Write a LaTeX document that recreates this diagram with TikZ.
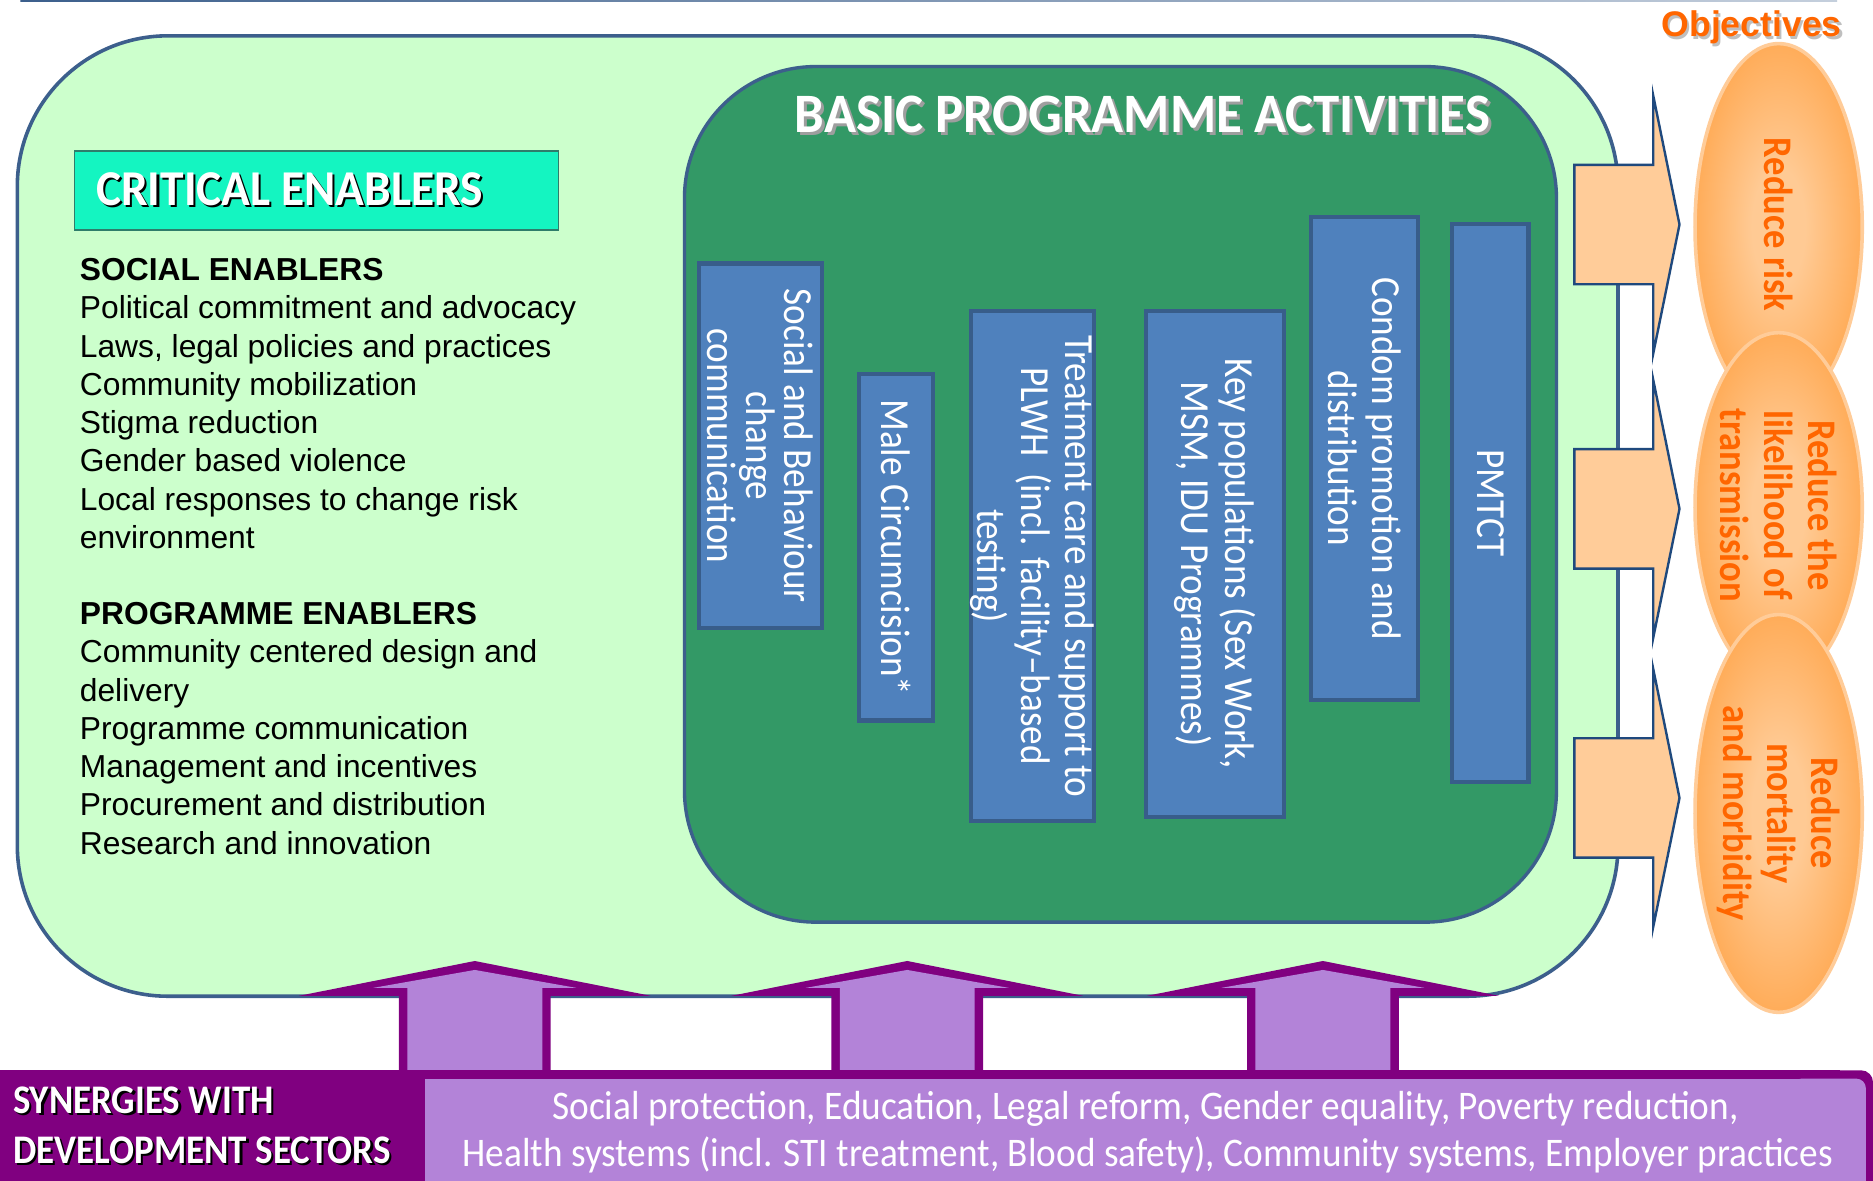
\documentclass[tikz,border=0pt]{standalone}
\usepackage{fontspec}
\usepackage{graphicx}
\setmainfont{Liberation Sans}
\newfontfamily\cfont[FakeStretch=0.9]{Carlito}
\newfontfamily\hfont{Carlito}
\definecolor{lgreen}{HTML}{CCFFCC}
\definecolor{dgreen}{HTML}{339966}
\definecolor{bord}{HTML}{3C5F8C}
\definecolor{bfill}{HTML}{4F81BD}
\definecolor{bbord}{HTML}{385D8A}
\definecolor{cefill}{HTML}{14F5C1}
\definecolor{ceborder}{HTML}{2E7D6B}
\definecolor{peach}{HTML}{FFCC99}
\definecolor{navy}{HTML}{1F497D}
\definecolor{orng}{HTML}{FF9933}
\definecolor{olight}{HTML}{FFCA94}
\definecolor{otext}{HTML}{FF6600}
\definecolor{dpurp}{HTML}{800080}
\definecolor{lpurp}{HTML}{B383D8}
\pgfdeclareradialshading{objsh}{\pgfpoint{0bp}{0bp}}{color(0bp)=(olight); color(8bp)=(olight); color(36bp)=(orng); color(50bp)=(orng)}
\newcommand\hdr[3]{\resizebox{#1}{\height}{\hfont\bfseries\fontsize{#2}{#2}\selectfont #3}}
\newcommand\btxt[2]{\resizebox{#1}{\height}{\hfont\fontsize{17}{20}\selectfont #2}}
\begin{document}
\begin{tikzpicture}[x=0.5pt,y=-0.5pt,
  lt/.style={anchor=base west, inner sep=0pt, font=\fontsize{13.3}{16}\selectfont},
  hd/.style={anchor=base west, inner sep=0pt},
  bluebox/.style={draw=bbord, fill=bfill, line width=1.75pt},
  boxtext/.style={text=white, rotate=-90, align=center, inner sep=0pt, font=\cfont\fontsize{17.3}{18.5}\selectfont},
  objtext/.style={text=otext, rotate=-90, align=center, inner sep=0pt, font=\cfont\bfseries\fontsize{17}{18.5}\selectfont},
  objell/.style={shading=objsh, draw=peach, line width=1.5pt},
  rarrow/.style={draw=navy, fill=peach, line width=1pt, line join=miter}]
\useasboundingbox (0,0) rectangle (1568,988);
\fill[white] (0,0) rectangle (1568,988);
% top thin line
\shade[left color=bord, right color=bord!30] (17,0) rectangle (1538,1.6);
% outer box
\draw[draw=bord, fill=lgreen, line width=1.5pt, rounded corners=63pt] (14.5,30) rectangle (1354.5,834);
% inner box
\draw[draw=bord, fill=dgreen, line width=1.4pt, rounded corners=55pt] (573,55.7) rectangle (1303,772);
% title
\node[hd, text=black!38] at (667.5,113.5) {\hdr{291pt}{23.3}{BASIC PROGRAMME ACTIVITIES}};
\node[hd, text=white] (title) at (665,111) {\hdr{291pt}{23.3}{BASIC PROGRAMME ACTIVITIES}};
% critical enablers box
\draw[draw=ceborder, fill=cefill, line width=0.6pt] (62.5,126.5) rectangle (467.5,192.5);
\node[hd, text=black] at (81.8,173.8) {\hdr{162pt}{21}{CRITICAL ENABLERS}};
\node[hd, text=white] (ce) at (80,172) {\hdr{162pt}{21}{CRITICAL ENABLERS}};
% left text
\node[lt, font=\bfseries\fontsize{13.3}{16}\selectfont] (l0) at (66.5,235) {SOCIAL ENABLERS};
\node[lt] (l1) at (66.5,267) {Political commitment and advocacy};
\node[lt] (l2) at (66.5,299) {Laws, legal policies and practices};
\node[lt] (l3) at (66.5,331) {Community mobilization};
\node[lt] (l4) at (66.5,363) {Stigma reduction};
\node[lt] (l5) at (66.5,395) {Gender based violence};
\node[lt] (l6) at (66.5,427) {Local responses to change risk};
\node[lt] (l7) at (66.5,459) {environment};
\node[lt, font=\bfseries\fontsize{13.3}{16}\selectfont] (l9) at (66.5,523) {PROGRAMME ENABLERS};
\node[lt] (l10) at (66.5,555) {Community centered design and};
\node[lt] (l11) at (66.5,587) {delivery};
\node[lt] (l12) at (66.5,619) {Programme communication};
\node[lt] (l13) at (66.5,651) {Management and incentives};
\node[lt] (l14) at (66.5,683) {Procurement and distribution};
\node[lt] (l15) at (66.5,715) {Research and innovation};
% blue boxes
\draw[bluebox] (585.3,220.6) rectangle (687.8,525.9);
\draw[bluebox] (719.4,313.3) rectangle (781.1,603.2);
\draw[bluebox] (812.8,260.5) rectangle (915.8,687.2);
\draw[bluebox] (959.5,260.5) rectangle (1075.2,683.8);
\draw[bluebox] (1097.8,181.8) rectangle (1187,586);
\draw[bluebox] (1215.8,187.2) rectangle (1279.6,655);
\node[boxtext, font=\cfont\fontsize{17.3}{16}\selectfont] (b1) at (636.5,373.2) {Social and Behaviour\\change\\communication};
\node[boxtext] (b2) at (750.2,458.2) {Male Circumcision*};
\node[boxtext] (b3) at (864.3,473.9) {Treatment care and support to\\PLWH\ \ (incl. facility–based\\testing)};
\node[boxtext] (b4) at (1017.3,472.1) {Key populations (Sex Work,\\MSM, IDU Programmes)};
\node[boxtext] (b5) at (1142.4,383.9) {Condom promotion and\\distribution};
\node[boxtext] (b6) at (1247.7,421.1) {PMTCT};
% right arrows
\foreach \cy in {188,426,668} {
  \draw[rarrow] (1318,{\cy-50}) -- (1384,{\cy-50}) -- (1384,{\cy-108}) -- (1406,\cy) -- (1384,{\cy+108}) -- (1384,{\cy+50}) -- (1318,{\cy+50}) -- cycle;
}
% objectives
\node[hd, text=black!25, font=\bfseries\fontsize{14.9}{16}\selectfont] at (1392.6,32.7) {Objectives};
\node[hd, text=otext, font=\bfseries\fontsize{14.9}{16}\selectfont] (obj) at (1390.6,30.7) {Objectives};
\path[objell] (1489,190) ellipse [x radius=70, y radius=153.5];
\node[objtext] (o1) at (1489,188) {Reduce risk};
\path[objell] (1489,425) ellipse [x radius=70, y radius=146.5];
\node[objtext] (o2) at (1489,423) {Reduce the\\likelihood of\\transmission};
\path[objell] (1489,681) ellipse [x radius=70, y radius=166.5];
\node[objtext] (o3) at (1489,681) {Reduce\\mortality\\and morbidity};
% purple up arrows
\foreach \c in {397.5,759.5,1107.5} {
  \fill[dpurp] ({\c-63.5},897) -- ({\c-63.5},833.6) -- ({\c-147},833.6) -- (\c,804.5) -- ({\c+147},833.6) -- ({\c+63.5},833.6) -- ({\c+63.5},897) -- cycle;
  \fill[lpurp] ({\c-56.5},896) -- ({\c-56.5},827) -- ({\c-85},827) -- (\c,812) -- ({\c+85},827) -- ({\c+56.5},827) -- ({\c+56.5},896) -- cycle;
}
% bottom bar
\fill[dpurp] (0,896) rectangle (1540,1000);
\fill[dpurp, rounded corners=5pt] (1500,896) rectangle (1568,960);
\fill[dpurp] (1500,930) rectangle (1568,1000);
\fill[lpurp] (356,903) rectangle (1540,1000);
\fill[lpurp, rounded corners=4pt] (1500,903) rectangle (1562,1010);
\node[hd, text=black] at (12.6,934) {\hdr{109pt}{17}{SYNERGIES WITH}};
\node[hd, text=white] (syn1) at (10.6,932) {\hdr{109pt}{17}{SYNERGIES WITH}};
\node[hd, text=black] at (12.6,976) {\hdr{158pt}{17}{DEVELOPMENT SECTORS}};
\node[hd, text=white] (syn2) at (10.6,974) {\hdr{158pt}{17}{DEVELOPMENT SECTORS}};
\node[hd, text=white] (s1) at (462,937.6) {\btxt{496.5pt}{Social protection, Education, Legal reform, Gender equality, Poverty reduction,}};
\node[hd, text=white] (s2) at (386.8,976.7) {\btxt{573.6pt}{Health systems (incl. STI treatment, Blood safety), Community systems, Employer practices}};
\end{tikzpicture}
\end{document}
